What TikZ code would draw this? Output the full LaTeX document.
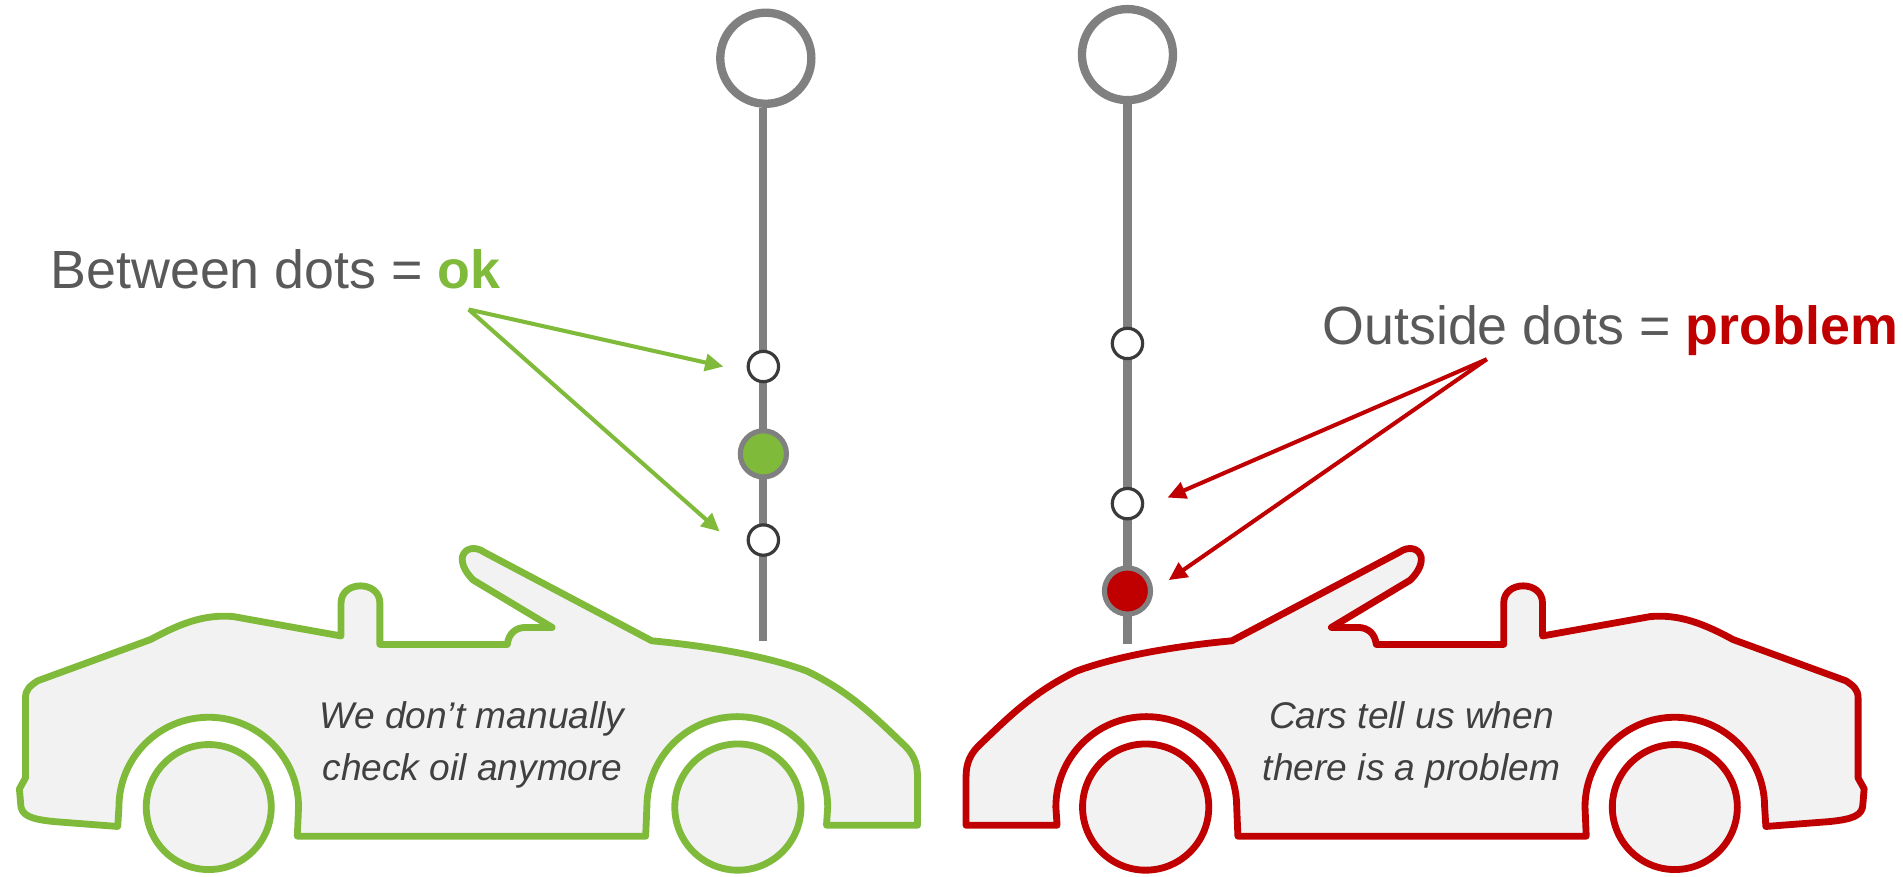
\documentclass[tikz,border=0pt]{standalone}
\usepackage{fontspec}
\setmainfont{Liberation Sans}
\usetikzlibrary{arrows.meta}

\definecolor{okgreen}{RGB}{127,186,58}
\definecolor{badred}{RGB}{192,0,0}
\definecolor{stickgray}{RGB}{128,128,128}
\definecolor{dotrim}{RGB}{58,58,58}
\definecolor{labelgray}{RGB}{89,89,89}
\definecolor{notegray}{RGB}{64,64,64}
\definecolor{bodyfill}{RGB}{242,242,242}

% convertible seen from the side, nose to the right
\tikzset{
  roadster/.pic={
    \filldraw[fill=bodyfill, line width=1.6pt, line join=round]
      (97,681) -- (98,665) arc[start angle=180, end angle=360, radius=74]
      -- (245,689) -- (532,689) -- (533,665) arc[start angle=180, end angle=360, radius=74.5]
      -- (681,680) -- (756,680) -- (756,640)
      .. controls (756,628) and (752,620) .. (743,612)
      .. controls (720,590) and (700,570) .. (665,553)
      .. controls (630,540) and (580,532) .. (537,528)
      -- (399,455) .. controls (392,450) and (383,451) .. (381,459)
      .. controls (380,466) and (385,473) .. (390,478)
      -- (455,517) -- (433,517) .. controls (425,517) and (419,522) .. (418,531)
      -- (313,531) -- (313,497) .. controls (313,478) and (281,478) .. (281,497)
      -- (281,524) -- (192,508) .. controls (168,506) and (148,514) .. (124,527)
      -- (31,561) .. controls (25,565) and (21,568) .. (21,575)
      -- (21,641) -- (16,650) -- (17,662) .. controls (17,672) and (25,675) .. (45,677)
      -- cycle;
    % wheels
    \filldraw[fill=bodyfill, line width=1.6pt] (172,665) circle[radius=51.5] (608,665) circle[radius=52];
  }
}

\begin{document}
\begin{tikzpicture}[x=0.01cm, y=-0.01cm,
    stick/.style={stickgray, line width=1.9pt},
    ring/.style={circle, draw=stickgray, line width=1.95pt, minimum size=0.75cm, inner sep=0pt},
    lowdot/.style={circle, draw=dotrim, fill=white, line width=0.75pt, minimum size=0.25cm, inner sep=0pt},
    leveldot/.style={circle, draw=stickgray, line width=1.2pt, minimum size=0.38cm, inner sep=0pt},
    tagline/.style={labelgray, font=\fontsize{12.6}{15}\selectfont, inner sep=0pt, anchor=base west},
    carnote/.style={notegray, font=\fontsize{8.7}{12.2}\selectfont\itshape, align=center, inner sep=0pt},
    okarrow/.style={okgreen, line width=0.95pt, -{Triangle[length=1.5mm, width=1.4mm]}},
    badarrow/.style={badred, line width=0.95pt, -{Triangle[length=1.5mm, width=1.4mm]}},
  ]
  \useasboundingbox (0,0) rectangle (1568,722);

  % the two cars
  \pic[okgreen] at (0,0) {roadster};
  \pic[badred, xscale=-1] at (1552,0) {roadster};
  \node[carnote] (oknote) at (389,614) {We don’t manually\\check oil anymore};
  \node[carnote] (badnote) at (1163,614) {Cars tell us when\\there is a problem};

  % dipstick, level between the marks
  \node[ring] (okring) at (631,48) {};
  \coordinate (okfoot) at (629,528);
  \draw[stick] (okring.south -| okfoot) -- (okfoot);
  \node[lowdot] (okhi) at (629,302) {};
  \node[leveldot, fill=okgreen] (oklevel) at (629,374) {};
  \node[lowdot] (oklo) at (629,445) {};

  % dipstick, level below the marks
  \node[ring] (badring) at (929,45) {};
  \coordinate (badfoot) at (929,531);
  \draw[stick] (badring.south) -- (badfoot);
  \node[lowdot] (badhi) at (929,283) {};
  \node[lowdot] (badlo) at (929,415) {};
  \node[leveldot, fill=badred] (badlevel) at (929,487) {};

  % labels and arrows
  \node[tagline] (oklabel) at (41,238) {Between dots = \textcolor{okgreen}{\textbf{ok}}};
  \node[tagline] (badlabel) at (1089,284) {Outside dots = \textcolor{badred}{\textbf{problem}}};
  \coordinate (okfrom) at ([xshift=3.45cm, yshift=-0.17cm]oklabel.base west);
  \coordinate (badfrom) at ([xshift=1.36cm, yshift=-0.12cm]badlabel.base west);
  \draw[okarrow] (okfrom) -- ([xshift=-0.33cm]okhi.center);
  \draw[okarrow] (okfrom) -- ([xshift=-0.36cm, yshift=0.07cm]oklo.center);
  \draw[badarrow] (badfrom) -- ([xshift=0.33cm, yshift=0.05cm]badlo.center);
  \draw[badarrow] (badfrom) -- ([xshift=0.34cm, yshift=0.09cm]badlevel.center);
\end{tikzpicture}
\end{document}
